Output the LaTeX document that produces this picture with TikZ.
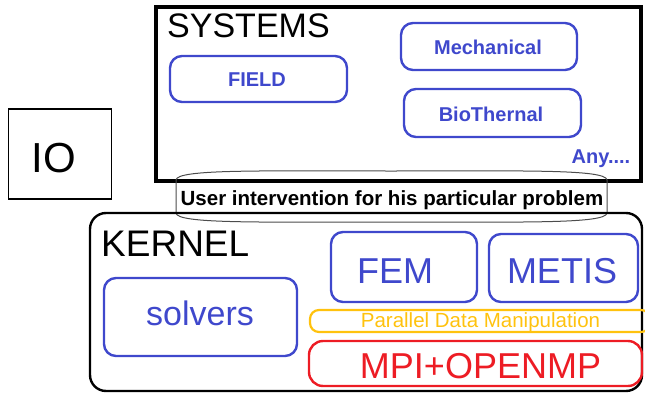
\documentclass[tikz,border=0pt]{standalone}
\usepackage{fontspec}
\setmainfont{Liberation Sans}
\definecolor{pblue}{HTML}{3F48CC}
\definecolor{pred}{HTML}{ED1C24}
\definecolor{pgold}{HTML}{FFC20E}
\begin{document}
\begin{tikzpicture}[x=1pt,y=-1pt,
  frame/.style={draw=black,rectangle,inner sep=0pt},
  bluebox/.style={draw=pblue,line width=2.4pt,rounded corners=12pt,inner sep=0pt},
  smalltxt/.style={text=pblue,font=\fontsize{20}{20}\selectfont\bfseries,anchor=base,inner sep=0pt},
  bigtxt/.style={font=\fontsize{36}{36}\selectfont,anchor=base,inner sep=0pt},
  headtxt/.style={font=\fontsize{34}{34}\selectfont,anchor=base west,inner sep=0pt}]
\useasboundingbox (0,0) rectangle (645,396);
\clip (0,0) rectangle (645,396);

% SYSTEMS layer
\node[frame,line width=4.5pt,minimum width=485pt,minimum height=174pt] (systems) at (398.5,94) {};
\node[headtxt] (systemsT) at (167,38) {SYSTEMS};
\node[bluebox,minimum width=177pt,minimum height=46pt] (field) at (258.5,79) {};
\node[smalltxt] at (257,86) {FIELD};
\node[bluebox,minimum width=176pt,minimum height=47pt] (mech) at (489,46.5) {};
\node[smalltxt] at (488,55) {Mechanical};
\node[bluebox,minimum width=177pt,minimum height=48pt] (bio) at (492.5,113) {};
\node[smalltxt] at (491,121) {BioThernal};
\node[smalltxt] (any) at (601,163) {Any....};

% IO block
\node[frame,line width=1.8pt,minimum width=103pt,minimum height=90pt] (io) at (60,154) {};
\node[font=\fontsize{42}{42}\selectfont,anchor=base,inner sep=0pt] (ioT) at (54,172) {IO};

% user layer between systems and kernel
\path[draw=black!70,line width=1pt]
  (176,180) .. controls (177,169) and (260,171) .. (391,171)
  .. controls (522,171) and (606,169) .. (607,180) -- (607,213)
  .. controls (606,224) and (522,222) .. (391,222)
  .. controls (260,222) and (177,224) .. (176,213) -- cycle;
\node[font=\fontsize{20.5}{20.5}\selectfont\bfseries,anchor=base,inner sep=0pt] (user) at (392,205)
  {User intervention for his particular problem};

% KERNEL layer
\node[frame,line width=2.4pt,rounded corners=16pt,minimum width=552pt,minimum height=178pt] (kernel) at (366,302) {};
\node[headtxt,font=\fontsize{37}{37}\selectfont] (kernelT) at (101,256) {KERNEL};
\node[bluebox,minimum width=193pt,minimum height=78pt] (solvers) at (200.5,317) {};
\node[bigtxt,text=pblue,font=\fontsize{34}{34}\selectfont] at (200,325) {solvers};
\node[bluebox,minimum width=146pt,minimum height=70pt] (fem) at (404,267) {};
\node[bigtxt,text=pblue] at (395,283) {FEM};
\node[bluebox,minimum width=149pt,minimum height=68pt] (metis) at (563.5,268) {};
\node[bigtxt,text=pblue] at (562,283) {METIS};
\node[draw=pgold,line width=2.2pt,rounded corners=9pt,inner sep=0pt,minimum width=340pt,minimum height=22pt] (pdm) at (480,321) {};
\node[text=pgold,font=\fontsize{20.5}{20.5}\selectfont,anchor=base,inner sep=0pt] at (480.5,327) {Parallel Data Manipulation};
\node[draw=pred,line width=2.4pt,rounded corners=14pt,inner sep=0pt,minimum width=333pt,minimum height=45pt] (mpi) at (475.5,363.5) {};
\node[bigtxt,text=pred] at (480.5,378) {MPI+OPENMP};
\end{tikzpicture}
\end{document}
